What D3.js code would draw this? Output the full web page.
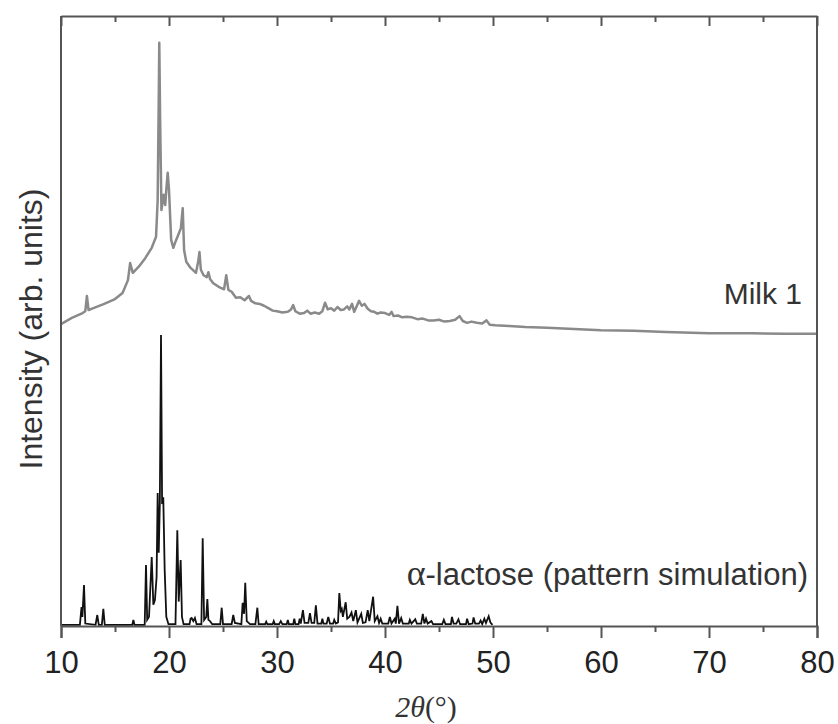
<!DOCTYPE html>
<html>
<head>
<meta charset="utf-8">
<script src="https://cdn.jsdelivr.net/npm/d3@7"></script>
<style>
  body { margin: 0; background: #fff; }
  svg { display: block; }
</style>
</head>
<body>
<div id="chart"></div>
<script>
// x tick labels
const xTicks = [10, 20, 30, 40, 50, 60, 70, 80];
const xMinor = [15, 25, 35, 45, 55, 65, 75];

// Milk 1 measured pattern (2theta, intensity a.u., offset upward)
const milkX = [10.0, 11.0, 12.0, 12.25, 12.4, 12.55, 13.0, 14.0, 15.0, 15.7, 16.2, 16.4, 16.65, 17.2, 17.8, 18.4, 18.8, 18.95, 19.05, 19.1, 19.18, 19.3, 19.5, 19.65, 19.75, 19.88, 20.0, 20.2, 20.4, 20.6, 20.85, 21.1, 21.27, 21.4, 21.6, 22.0, 22.5, 22.7, 22.82, 22.95, 23.2, 23.5, 23.65, 23.8, 24.1, 24.6, 25.1, 25.3, 25.5, 25.8,
  26.2, 26.6, 27.0, 27.4, 27.6, 28.0, 28.4, 28.8, 29.2, 29.6, 30.0, 30.5, 31.0, 31.3, 31.5, 31.7, 32.1, 32.5, 32.8, 33.1, 33.5, 33.9, 34.2, 34.45, 34.7, 35.0, 35.3, 35.6, 35.9, 36.2, 36.5, 36.7, 36.95, 37.15, 37.4, 37.6, 37.85, 38.1, 38.4, 38.7, 39.0, 39.3, 39.6, 40.0, 40.4, 40.6, 40.8, 41.2, 41.6, 42.0, 42.5, 43.0, 43.5, 44.0, 44.5, 45.0, 45.5, 46.0, 46.5, 46.9, 47.2, 47.6, 48.0, 48.5, 49.0, 49.4, 49.7, 50.2,
  51.5, 53.0, 55.0, 57.5, 60.0, 63.0, 66.0, 70.0, 74.0, 77.0, 80.0];
const milkY = [49.5, 50.5, 51.3, 51.6, 54.1, 51.8, 52.1, 52.8, 53.6, 54.6, 56.7, 59.5, 57.9, 58.9, 60.3, 62.0, 63.8, 69.8, 86.2, 95.6, 83.0, 68.2, 70.7, 69.0, 71.5, 74.3, 71.5, 63.3, 62.0, 63.0, 64.1, 65.2, 68.5, 61.6, 59.7, 58.7, 57.9, 59.7, 61.3, 58.4, 57.5, 57.2, 58.0, 56.9, 56.2, 55.6, 55.2, 57.5, 55.1, 54.8,
  53.8, 53.9, 53.4, 54.1, 53.3, 52.9, 52.8, 52.5, 52.1, 51.7, 51.6, 51.4, 51.5, 51.9, 52.6, 51.6, 51.2, 51.3, 51.7, 51.2, 51.4, 51.2, 51.6, 53.0, 51.9, 52.1, 51.7, 52.3, 51.8, 51.9, 52.4, 51.9, 52.8, 51.5, 52.5, 53.3, 52.5, 52.8, 52.0, 51.6, 51.5, 51.2, 51.4, 51.3, 51.0, 51.5, 50.8, 50.9, 50.6, 50.7, 50.6, 50.3, 50.4, 50.1, 50.1, 50.2, 49.9, 50.0, 50.2, 50.8, 50.0, 49.7, 49.9, 49.7, 49.6, 50.1, 49.4, 49.3,
  49.2, 49.0, 48.9, 48.7, 48.5, 48.4, 48.2, 48.0, 48.0, 47.9, 47.9];

// alpha-lactose simulated pattern
const lacX = [10.0, 11.75, 11.9, 11.98, 12.13, 12.25, 13.2, 13.36, 13.5, 13.78, 13.92, 14.05, 16.6, 16.7, 16.8, 17.75, 17.87, 17.98, 18.15, 18.4, 18.55, 18.7, 18.85, 18.95, 19.05, 19.15, 19.26, 19.36, 19.47, 19.6, 19.75, 19.95, 20.6, 20.77, 20.9, 21.0, 21.08, 21.2, 21.35, 21.9, 22.0, 22.1, 22.25, 22.4, 22.55, 23.0, 23.12, 23.25, 23.45, 23.55, 23.65, 23.8, 24.0, 24.75, 24.88, 25.0, 25.8, 25.95, 26.1, 26.7, 26.82, 26.95, 27.06, 27.2, 27.5, 28.0, 28.18, 28.3, 28.9, 29.0, 29.1, 29.6, 29.7, 29.8, 30.2, 30.35, 30.5, 30.9, 31.0, 31.1, 31.5, 31.6, 31.7, 32.0, 32.1, 32.2, 32.4, 32.55, 32.9, 33.05, 33.2, 33.45, 33.6, 33.75, 34.1, 34.2, 34.3, 34.6, 34.75, 34.9, 35.2, 35.3, 35.45, 35.65, 35.77, 35.9, 36.0, 36.1, 36.36, 36.5, 36.7, 36.9, 37.06, 37.3, 37.45, 37.8, 37.95, 38.2, 38.4, 38.55, 38.9, 39.05, 39.3, 39.45, 39.6, 39.75, 40.3, 40.45, 40.6, 40.9, 41.0, 41.15, 41.3, 41.5, 41.65, 42.2, 42.3, 42.45, 42.8, 42.95, 43.35, 43.5, 43.65, 43.8, 43.95, 44.3, 44.45, 45.3, 45.45, 45.6, 46.1, 46.2, 46.35, 46.6, 46.8, 46.95, 47.5, 47.6, 47.75, 48.1, 48.2, 48.35, 48.7, 48.85, 49.0, 49.2, 49.35, 49.6, 49.75, 49.95];
const lacY = [0.2, 0.2, 3.1, 1.5, 6.7, 0.4, 0.2, 1.8, 0.2, 0.2, 2.8, 0.2, 0.2, 1.0, 0.2, 0.2, 10.0, 1.0, 1.5, 11.3, 3.5, 4.3, 8.0, 21.8, 12.0, 20.0, 47.7, 20.0, 21.1, 9.2, 1.5, 0.3, 0.3, 15.7, 4.0, 8.0, 10.8, 1.5, 0.3, 0.3, 1.2, 1.3, 0.8, 1.3, 0.3, 0.3, 14.4, 1.0, 1.5, 4.4, 1.0, 0.8, 0.3, 0.3, 3.0, 0.3, 0.3, 1.8, 0.5, 0.3, 3.8, 2.0, 7.1, 0.8, 0.3, 0.3, 3.0, 0.3, 0.3, 0.7, 0.3, 0.3, 0.8, 0.3, 0.3, 0.8, 0.3, 0.3, 1.0, 0.3, 0.3, 1.2, 0.3, 0.3, 1.2, 0.4, 2.6, 0.5, 0.5, 2.1, 0.5, 0.5, 3.4, 0.4, 0.4, 1.2, 0.4, 0.4, 1.5, 0.4, 0.4, 1.0, 0.4, 0.6, 5.4, 2.5, 2.8, 1.5, 3.9, 1.2, 1.5, 2.2, 0.8, 2.6, 0.6, 2.0, 0.5, 0.6, 2.6, 0.8, 4.8, 0.8, 1.6, 0.5, 1.2, 0.4, 0.4, 1.5, 0.4, 1.2, 0.4, 3.3, 0.4, 1.3, 0.4, 0.4, 1.0, 0.4, 1.1, 0.4, 0.4, 2.0, 0.4, 1.2, 0.4, 0.8, 0.3, 0.3, 1.0, 0.3, 0.3, 1.5, 0.4, 0.4, 1.1, 0.3, 0.3, 1.2, 0.3, 0.4, 1.4, 0.4, 0.4, 0.9, 0.3, 1.2, 0.5, 1.6, 0.6, 0.2];

const margin = { top: 16, right: 21, bottom: 98, left: 61 },
  width = 838 - margin.left - margin.right,
  height = 724 - margin.top - margin.bottom;

const svg = d3.select("#chart")
  .append("svg")
    .attr("width", 838)
    .attr("height", 724);

const g = svg.append("g")
    .attr("transform", `translate(${margin.left},${margin.top})`);

const x = d3.scaleLinear().domain([10, 80]).range([0, width]);
const y = d3.scaleLinear().domain([0, 100]).range([height, 0]);

const line = d3.line()
  .x(d => x(d[0]))
  .y(d => y(d[1]));

// curves
g.append("path")
  .datum(milkX.map((v, i) => [v, milkY[i]]))
  .attr("d", line)
  .attr("fill", "none")
  .attr("stroke", "#8a8a8a")
  .attr("stroke-width", 2.5)
  .attr("stroke-linejoin", "round");

g.append("path")
  .datum(lacX.map((v, i) => [v, lacY[i]]))
  .attr("d", line)
  .attr("fill", "none")
  .attr("stroke", "#111")
  .attr("stroke-width", 1.8);

const axisColor = "#555";
const sans = "'Liberation Sans', Arial, sans-serif";

// bottom axis - major with labels, minor short
const bottom = g.append("g")
  .attr("transform", `translate(0,${height})`)
  .call(d3.axisBottom(x).tickValues(xTicks).tickSize(12).tickPadding(13).tickFormat(d3.format("d")));
g.append("g")
  .attr("transform", `translate(0,${height})`)
  .call(d3.axisBottom(x).tickValues(xMinor).tickSize(6).tickFormat(""))
  .select(".domain").remove();

bottom.selectAll("text")
  .attr("font-family", sans)
  .attr("font-size", 31)
  .attr("fill", "#222");

// top axis, ticks point inward
g.append("g")
  .call(d3.axisTop(x).tickValues(xTicks).tickSizeInner(-10).tickSizeOuter(0).tickFormat(""));
g.append("g")
  .call(d3.axisTop(x).tickValues(xMinor).tickSizeInner(-6).tickSizeOuter(0).tickFormat(""))
  .select(".domain").remove();

// left & right frame
g.append("line").attr("x1", 0).attr("x2", 0).attr("y1", 0).attr("y2", height);
g.append("line").attr("x1", width).attr("x2", width).attr("y1", 0).attr("y2", height);

g.selectAll(".domain, .tick line, line")
  .attr("stroke", axisColor)
  .attr("stroke-width", 2);

// labels
svg.append("text")
  .attr("transform", `translate(42,329) rotate(-90)`)
  .attr("text-anchor", "middle")
  .attr("font-family", sans)
  .attr("font-size", 32)
  .attr("fill", "#333")
  .text("Intensity (arb. units)");

const xl = svg.append("text")
  .attr("x", 426)
  .attr("y", 717)
  .attr("text-anchor", "middle")
  .attr("font-family", "'Liberation Serif', 'Times New Roman', serif")
  .attr("font-size", 30)
  .attr("fill", "#333");
xl.append("tspan").attr("font-style", "italic").text("2θ");
xl.append("tspan").text("(°)");

svg.append("text")
  .attr("x", 802)
  .attr("y", 304)
  .attr("text-anchor", "end")
  .attr("font-family", sans)
  .attr("font-size", 30)
  .attr("fill", "#333")
  .text("Milk 1");

const lt = svg.append("text")
  .attr("x", 808)
  .attr("y", 585)
  .attr("text-anchor", "end")
  .attr("font-family", sans)
  .attr("font-size", 31)
  .attr("fill", "#333");
lt.append("tspan").attr("font-family", "'Liberation Serif', serif").attr("font-size", 36).text("α");
lt.append("tspan").text("-lactose (pattern simulation)");
</script>
</body>
</html>
